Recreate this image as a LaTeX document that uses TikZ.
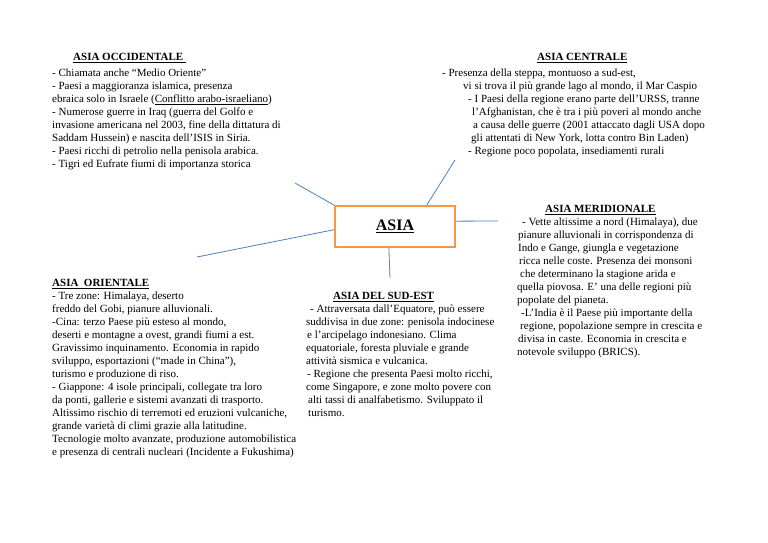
\documentclass[tikz,border=0pt]{standalone}
\usepackage{fontspec}
\setmainfont{Liberation Serif}
\definecolor{arancio}{HTML}{F79646}
\definecolor{ramoblu}{HTML}{4F81BD}
\newcommand{\sottolineato}[1]{\setbox0\hbox{#1}\rlap{\rule[-2.6pt]{\wd0}{1.1pt}}\box0}
\tikzset{
  blocco/.style={anchor=north west, inner sep=0pt, align=left,
    font=\fontsize{11}{13}\selectfont},
  ramo/.style={draw=ramoblu, line width=0.8pt},
}

\begin{document}
\begin{tikzpicture}[x=1pt,y=-1pt]
  \fill[white] (0,0) rectangle (768,543);
  \useasboundingbox (0,0) rectangle (768,543);

  \node[draw=arancio, line width=1.8pt, minimum width=120pt, minimum height=41pt,
    inner sep=0pt, font=\fontsize{16}{19}\selectfont\bfseries] (asia) at (395,226.5) {\sottolineato{ASIA}};

  \node[blocco] (occ) at (52,51.6) {\hspace*{21pt}\strut\textbf{\underline{ASIA OCCIDENTALE\ }}\\[3pt]
    - Chiamata anche “Medio Oriente”\\
    - Paesi a maggioranza islamica, presenza\\
    ebraica solo in Israele (\underline{Conflitto arabo-israeliano})\\
    - Numerose guerre in Iraq (guerra del Golfo e\\
    invasione americana nel 2003, fine della dittatura di\\
    Saddam Hussein) e nascita dell’ISIS in Siria.\\
    - Paesi ricchi di petrolio nella penisola arabica.\\
    - Tigri ed Eufrate fiumi di importanza storica};

  \node[blocco] (cen) at (442,51.6) {\hspace*{95pt}\strut\textbf{\underline{ASIA CENTRALE}}\\[3pt]
    - Presenza della steppa, montuoso a sud-est,\\
    \hspace*{21pt}vi si trova il più grande lago al mondo, il Mar Caspio\\
    \hspace*{26pt}- I Paesi della regione erano parte dell’URSS, tranne\\
    \hspace*{30pt}l’Afghanistan, che è tra i più poveri al mondo anche\\
    \hspace*{31pt}a causa delle guerre (2001 attaccato dagli USA dopo\\
    \hspace*{29pt}gli attentati di New York, lotta contro Bin Laden)\\
    \hspace*{26pt}- Regione poco popolata, insediamenti rurali};

  \node[blocco] (mer) at (517,203.6) {\hspace*{28pt}\strut\textbf{\underline{ASIA MERIDIONALE}}\\
    \hspace*{5pt}- Vette altissime a nord (Himalaya), due\\
    \hspace*{1pt}pianure alluvionali in corrispondenza di\\
    \hspace*{1pt}Indo e Gange, giungla e vegetazione\\
    \hspace*{2pt}ricca nelle coste. Presenza dei monsoni\\
    \hspace*{3pt}che determinano la stagione arida e\\
    quella piovosa. E’ una delle regioni più\\
    popolate del pianeta.\\
    \hspace*{4pt}-L’India è il Paese più importante della\\
    \hspace*{3pt}regione, popolazione sempre in crescita e\\
    \hspace*{1pt}divisa in caste. Economia in crescita e\\
    notevole sviluppo (BRICS).};

  \node[blocco] (sud) at (306,290.6) {\hspace*{27pt}\strut\textbf{\underline{ASIA DEL SUD-EST}}\\
    \hspace*{4pt}- Attraversata dall’Equatore, può essere\\
    suddivisa in due zone: penisola indocinese\\
    \hspace*{1pt}e l’arcipelago indonesiano. Clima\\
    equatoriale, foresta pluviale e grande\\
    attività sismica e vulcanica.\\
    \hspace*{1pt}- Regione che presenta Paesi molto ricchi,\\
    come Singapore, e zone molto povere con\\
    \hspace*{2pt}alti tassi di analfabetismo. Sviluppato il\\
    \hspace*{2pt}turismo.};

  \node[blocco] (ori) at (52,277.6) {\strut\textbf{\underline{ASIA\ \ ORIENTALE}}\\
    - Tre zone: Himalaya, deserto\\
    freddo del Gobi, pianure alluvionali.\\
    -Cina: terzo Paese più esteso al mondo,\\
    deserti e montagne a ovest, grandi fiumi a est.\\
    Gravissimo inquinamento. Economia in rapido\\
    sviluppo, esportazioni (“made in China”),\\
    turismo e produzione di riso.\\
    - Giappone: 4 isole principali, collegate tra loro\\
    da ponti, gallerie e sistemi avanzati di trasporto.\\
    Altissimo rischio di terremoti ed eruzioni vulcaniche,\\
    grande varietà di climi grazie alla latitudine.\\
    Tecnologie molto avanzate, produzione automobilistica\\
    e presenza di centrali nucleari (Incidente a Fukushima)};

  \coordinate (fo) at (295,183);
  \coordinate (fr) at (197,257);
  \coordinate (fc) at (455,160);
  \coordinate (fm) at (498,221);
  \coordinate (fs) at (390,278);
  \draw[ramo] (asia.north west) -- (fo);
  \draw[ramo] (asia.183) -- (fr);
  \draw[ramo] (asia.34) -- (fc);
  \draw[ramo] (asia.5) -- (fm);
  \draw[ramo] (asia.254) -- (fs);
\end{tikzpicture}
\end{document}
